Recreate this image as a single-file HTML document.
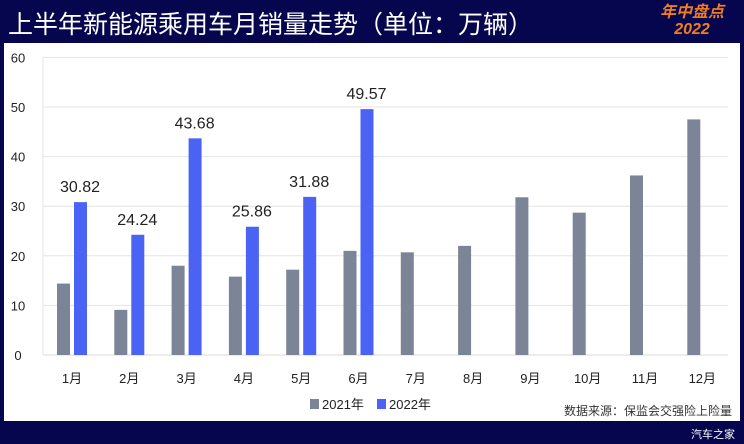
<!DOCTYPE html>
<html><head><meta charset="utf-8"><style>
body{margin:0;width:744px;height:444px;background:#06064f;overflow:hidden;font-family:"Liberation Sans","Noto Sans CJK SC",sans-serif;position:relative}
.t{position:absolute;white-space:nowrap}
</style></head><body>
<div class="t" style="left:8px;top:5px;font-size:25px;color:#fff;">上半年新能源乘用车月销量走势（单位：万辆）</div>
<div class="t" style="left:660px;top:4px;font-size:16px;line-height:17px;color:#f07c1e;font-weight:bold;font-style:italic;text-align:center">年中盘点<br>2022</div>
<div class="t" style="left:691px;top:426px;font-size:11px;color:#fff">汽车之家</div>
<svg id="c" width="744" height="444" style="position:absolute;left:0;top:0"></svg>
<script>
const categories=["1月","2月","3月","4月","5月","6月","7月","8月","9月","10月","11月","12月"];
const s2021=[14.4,9.1,18.0,15.8,17.2,21.0,20.7,22.0,31.8,28.7,36.2,47.5];
const s2022=[30.82,24.24,43.68,25.86,31.88,49.57];
const yTicks=[0,10,20,30,40,50,60];
const NS="http://www.w3.org/2000/svg";
const svg=document.getElementById('c');
function el(t,a,txt){const e=document.createElementNS(NS,t);for(const k in a)e.setAttribute(k,a[k]);if(txt!==undefined)e.textContent=txt;svg.appendChild(e);return e;}
const y=v=>355-v*4.96;
const cx=i=>72+i*57.3;
const p=el('rect',{x:4,y:43,width:736,height:378,fill:'#fff'});


yTicks.forEach(v=>{
 const l=el('line',{x1:43,x2:728,y1:y(v),y2:y(v),stroke:v?'#e4e4e4':'#d8d8d8','stroke-width':1});
 
 
 const t=el('text',{x:18,y:y(v)+5,'font-size':13,fill:'#222','text-anchor':'middle'},v);
 
 
});
const ax=el('line',{x1:43,x2:43,y1:y(60),y2:y(0),stroke:'#e4e4e4'});


categories.forEach((c,i)=>{
 const t=el('text',{x:cx(i),y:383,'font-size':13,fill:'#222','text-anchor':'middle'},c);
 
 
 const b=el('rect',{x:cx(i)-15,y:y(s2021[i]),width:13,height:y(0)-y(s2021[i]),fill:'#7b8597'});
 
 
 if(i<s2022.length){
  const b2=el('rect',{x:cx(i)+2,y:y(s2022[i]),width:13,height:y(0)-y(s2022[i]),fill:'#4a63f5'});
  
  
  const l=el('text',{x:cx(i)+8,y:y(s2022[i])-10,'font-size':16,fill:'#222','text-anchor':'middle'},s2022[i].toFixed(2));
  
  
 }
});
const lg1=el('rect',{x:310,y:399,width:9,height:10,fill:'#7b8597'});


const lt1=el('text',{x:322,y:409,'font-size':13,fill:'#222'},'2021年');


const lg2=el('rect',{x:377,y:399,width:9,height:10,fill:'#4a63f5'});


const lt2=el('text',{x:389,y:409,'font-size':13,fill:'#222'},'2022年');


const src=el('text',{x:732,y:415,'font-size':12,fill:'#333','text-anchor':'end'},'数据来源：保监会交强险上险量');


</script>
</body></html>
